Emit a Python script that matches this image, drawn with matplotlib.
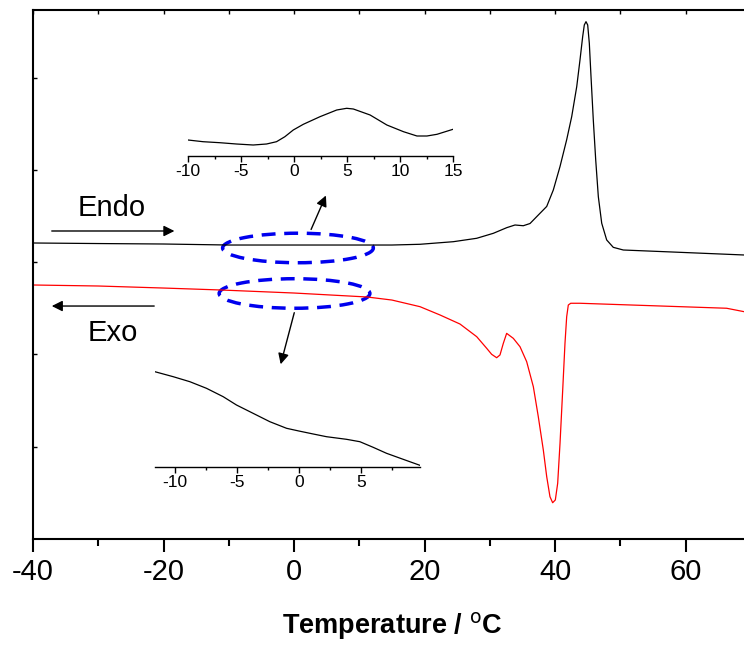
import matplotlib
matplotlib.use("Agg")
import matplotlib.pyplot as plt
from matplotlib.patches import Ellipse

plt.rcParams['font.family'] = ['Liberation Sans', 'DejaVu Sans']
plt.rcParams['axes.unicode_minus'] = False

# heating scan (endo), heat flow in arbitrary units
t_heat = [-40, -30, -20, -10, 0, 10, 15, 19.31, 24.41, 28.0, 30.55, 32.6, 33.87, 35.14,
          36.17, 37.44, 38.73, 39.74, 40.77, 41.79, 42.56, 43.33, 43.83, 44.24, 44.49, 44.75,
          45.01, 45.26, 45.52, 45.87, 46.24, 46.64, 47.16, 47.92, 48.93, 50.47, 58.1, 69]
q_heat = [3.207, 3.201, 3.196, 3.185, 3.185, 3.185, 3.185, 3.193, 3.221, 3.258, 3.312, 3.373,
          3.402, 3.394, 3.418, 3.51, 3.603, 3.781, 4.036, 4.326, 4.576, 4.901, 5.19, 5.442,
          5.569, 5.605, 5.569, 5.37, 5.009, 4.539, 4.106, 3.709, 3.421, 3.24, 3.16, 3.131,
          3.109, 3.077]

# cooling scan (exo)
t_cool = [-40, -30, -20, -11.3, 0, 11.2, 15, 19.31, 22.38, 25.44, 28.0, 29.53, 30.29, 31.06,
          31.57, 32.08, 32.59, 33.61, 34.64, 35.66, 36.68, 37.44, 38.21, 38.73, 39.23, 39.64,
          40.05, 40.41, 40.77, 41.18, 41.53, 41.79, 42.04, 42.41, 43.83, 66.3, 68.97]
q_cool = [2.752, 2.741, 2.719, 2.698, 2.665, 2.622, 2.589, 2.517, 2.427, 2.329, 2.192, 2.066,
          2.001, 1.964, 1.994, 2.12, 2.228, 2.174, 2.083, 1.921, 1.65, 1.325, 0.964, 0.675,
          0.458, 0.393, 0.423, 0.603, 1.037, 1.614, 2.12, 2.408, 2.535, 2.554, 2.554, 2.5,
          2.463]

# zoomed heating trace
t_in1 = [-10, -8.58, -7.0, -5.43, -3.85, -2.59, -1.65, -0.86, -0.07, 0.88, 2.45, 4.03, 4.97,
         5.6, 7.18, 8.76, 10.33, 11.6, 12.54, 13.49, 15]
q_in1 = [16, 14.3, 13.3, 12, 11, 12, 14.3, 19.3, 26, 31.7, 39.3, 46, 47.7, 47, 41, 31, 24.3,
         20, 20, 21.7, 26.7]

# zoomed cooling trace
t_in2 = [-11.61, -10.13, -8.79, -7.45, -6.1, -5.03, -3.95, -2.34, -0.99, 0, 1.16, 2.23, 3.84,
         4.92, 5.99, 7.07, 8.41, 9.76]
q_in2 = [95.3, 90.3, 85.3, 78.7, 70.3, 62, 55.3, 45.3, 38.7, 36, 33, 30.3, 27.7, 25.3, 19.7,
         13.7, 7.7, 1.7]

W, H = 744, 646
fig = plt.figure(figsize=(W / 100, H / 100), dpi=100)

def px_axes(x0, y0, x1, y1):
    # pixel box (top-left origin) -> figure fraction
    return [x0 / W, 1 - y1 / H, (x1 - x0) / W, (y1 - y0) / H]

ax = fig.add_axes(px_axes(33, 10, 33 + 110 * 6.525, 539))
ax.plot(t_heat, q_heat, color='black', lw=0.9)
ax.plot(t_cool, q_cool, color='red', lw=0.9)
ax.set_xlim(-40, 70)
ax.set_ylim(0, 529 / 92.3)
ax.set_xticks([-40, -20, 0, 20, 40, 60])
ax.set_xticks([-30, -10, 10, 30, 50], minor=True)
ax.set_yticks([1, 2, 3, 4, 5])
ax.set_yticklabels([])
for s in ax.spines.values():
    s.set_linewidth(1.5)
ax.tick_params(axis='x', which='major', direction='out', length=9, width=1.5,
               labelsize=21, pad=5, top=False)
ax.tick_params(axis='x', which='minor', direction='out', length=5, width=1.5, top=False)
ax.tick_params(axis='y', direction='in', length=3, width=1)
ax.set_xlabel('Temperature / $^{\\mathrm{o}}$C', fontsize=19.5, fontweight='bold', labelpad=17)

# inward ticks on the top spine
top = ax.secondary_xaxis('top')
top.set_xticks([-40, -30, -20, -10, 0, 10, 20, 30, 40, 50, 60])
top.set_xticklabels([])
top.tick_params(direction='in', length=3, width=1)
top.spines['top'].set_visible(False)

# dashed ellipses marking the zoomed regions
for xc, yc in [(0.61, 3.153), (0.08, 2.660)]:
    ax.add_patch(Ellipse((xc, yc), 23.1, 0.32, fill=False, edgecolor='#0000ee', lw=2.5,
                         linestyle=(0, (4, 2.5))))

arr = dict(arrowstyle='-|>', color='black', lw=1, mutation_scale=16)
ax.annotate('', xy=(5.06, 3.749), xytext=(2.45, 3.326), arrowprops=arr)
ax.annotate('', xy=(-2.15, 1.864), xytext=(0.15, 2.481), arrowprops=arr)
ax.annotate('', xy=(-17.9, 3.337), xytext=(-37.55, 3.337), arrowprops=arr)
ax.annotate('', xy=(-37.55, 2.524), xytext=(-21, 2.524), arrowprops=arr)
ax.text(-27.9, 3.59, 'Endo', fontsize=21, ha='center', va='center')
ax.text(-27.7, 2.23, 'Exo', fontsize=21, ha='center', va='center')

# inset: heating trace
in1 = fig.add_axes(px_axes(188, 100, 453, 156))
in1.plot(t_in1, q_in1, color='black', lw=0.9)
in1.set_xlim(-10, 15)
in1.set_ylim(0, 56)
in1.set_xticks([-10, -5, 0, 5, 10, 15])
in1.set_xticks([-7.5, -2.5, 2.5, 7.5, 12.5], minor=True)

# inset: cooling trace
in2 = fig.add_axes(px_axes(155, 367, 420, 467))
in2.plot(t_in2, q_in2, color='black', lw=0.9)
in2.set_xlim(-11.6, 9.77)
in2.set_ylim(0, 100)
in2.set_xticks([-10, -5, 0, 5])
in2.set_xticks([-7.5, -2.5, 2.5, 7.5], minor=True)

for a in (in1, in2):
    a.patch.set_alpha(0)
    for k in ('top', 'left', 'right'):
        a.spines[k].set_visible(False)
    a.spines['bottom'].set_linewidth(1)
    a.set_yticks([])
    a.tick_params(axis='x', which='major', direction='out', length=4, width=1,
                  labelsize=12.5, pad=2)
    a.tick_params(axis='x', which='minor', direction='out', length=2.5, width=1)

fig.savefig('out.png', dpi=100)
